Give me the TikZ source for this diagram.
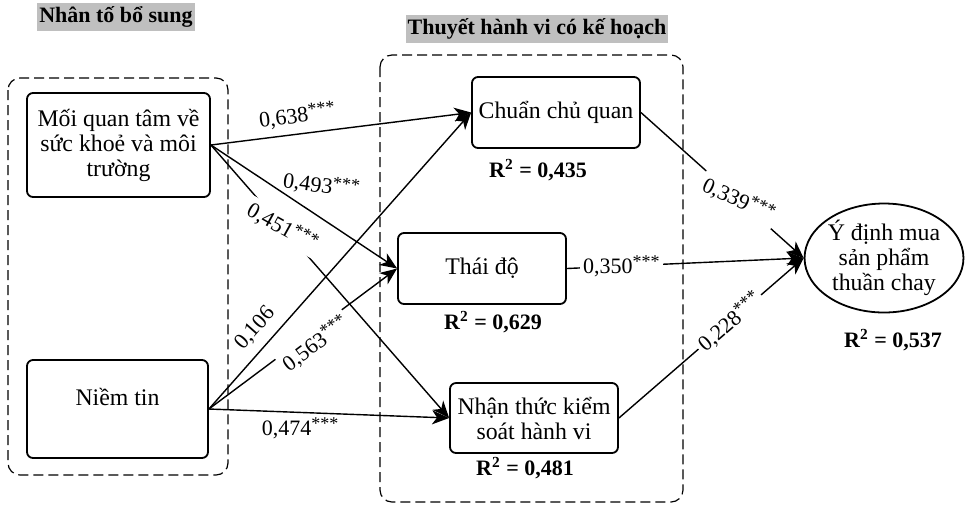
\documentclass[tikz,border=0pt]{standalone}
\usepackage{fontspec}
\setmainfont{Liberation Serif}
\usetikzlibrary{arrows.meta,shapes.geometric}
\newcommand{\sao}{\raisebox{0.6ex}{\fontsize{9}{9}\selectfont***}}

\begin{document}
\begin{tikzpicture}[x=0.5pt,y=-0.5pt,
    font=\fontsize{11.9}{12.5}\selectfont,
    khoi/.style={draw, line width=0.9pt, rounded corners=3pt, align=center, inner sep=2pt},
    nhom/.style={draw, dash pattern=on 5pt off 2.5pt, rounded corners=6pt, line width=0.6pt},
    tieude/.style={fill=black!25, font=\fontsize{11}{13}\selectfont\bfseries, inner xsep=1pt, inner ysep=2pt},
    muiten/.style={-{Stealth[length=8.5pt,width=7pt,inset=2.5pt]}, line width=0.7pt},
    heso/.style={font=\fontsize{11}{12}\selectfont, inner sep=1.5pt},
    rbinh/.style={font=\fontsize{11}{12}\selectfont\bfseries}]
  \useasboundingbox (0,0) rectangle (977,505);
  \node[tieude] (tdbosung) at (116,17) {Nhân tố bổ sung};
  \node[tieude] (tdhanhvi) at (537,29) {Thuyết hành vi có kế hoạch};
  \draw[nhom] (8,78) rectangle (228,475);
  \draw[nhom] (380,55) rectangle (683,502);
  \node[khoi, minimum width=91.5pt, minimum height=52pt] (moi) at (118.5,145) {Mối quan tâm về\\sức khoẻ và môi\\trường};
  \node[khoi, minimum width=90.5pt, minimum height=49pt] (niem) at (117.5,409) {Niềm tin\\\mbox{}};
  \node[khoi, minimum width=84pt, minimum height=35.5pt] (chuan) at (556,112.5) {Chuẩn chủ quan};
  \node[khoi, minimum width=84pt, minimum height=35.5pt] (thai) at (482,268.5) {Thái độ};
  \node[khoi, minimum width=84pt, minimum height=35pt] (nhan) at (534,418) {Nhận thức kiểm\\soát hành vi};
  \node[draw, line width=0.9pt, ellipse, minimum width=74pt, minimum height=54.5pt, align=center, inner sep=0pt] (ydinh) at (884,258) {Ý định mua\\sản phẩm\\thuần chay};
  \node[rbinh] (rchuan) at (538,170) {R\textsuperscript{2} = 0,435};
  \node[rbinh] (rthai) at (493,322) {R\textsuperscript{2} = 0,629};
  \node[rbinh] (rnhan) at (525,468) {R\textsuperscript{2} = 0,481};
  \node[rbinh] (rydinh) at (893,340) {R\textsuperscript{2} = 0,537};
  \draw[muiten] (moi.east) -- node[heso, sloped, above=2pt, pos=0.34] {0,638\sao} (chuan.west);
  \draw[muiten] (moi.east) -- node[heso, rotate=-8, above=8pt, pos=0.57] {0,493\sao} (thai.west);
  \draw[muiten] (moi.east) -- node[heso, fill=white, rotate=-29, pos=0.3] {0,451\sao} (nhan.west);
  \draw[muiten] (niem.east) -- node[heso, sloped, above=3pt, pos=0.23] {0,106} (chuan.west);
  \draw[muiten] (niem.east) -- node[heso, fill=white, inner ysep=4pt, sloped, below=-4pt, pos=0.53] {0,563\sao} (thai.west);
  \draw[muiten] (niem.east) -- node[heso, below=1pt, pos=0.38] {0,474\sao} (nhan.west);
  \draw[muiten] (chuan.east) -- node[heso, fill=white, rotate=-25, pos=0.6] {0,339\sao} (ydinh.west);
  \draw[muiten] (thai.east) -- node[heso, fill=white, pos=0.23] {0,350\sao} (ydinh.west);
  \draw[muiten] (nhan.east) -- node[heso, fill=white, sloped, pos=0.6] {0,228\sao} (ydinh.west);
\end{tikzpicture}
\end{document}
